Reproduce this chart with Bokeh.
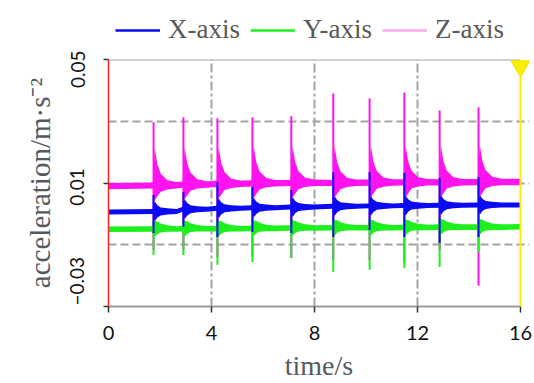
import math
from bokeh.plotting import figure
from bokeh.layouts import column
from bokeh.models import FixedTicker, Legend, LegendItem, Span, LinearAxis
from bokeh.embed import file_html
from bokeh.resources import INLINE

# ---- data ----
t_start, t_end = 0.0, 16.0
y_min, y_max = -0.03, 0.05
spike_t = [1.75, 2.91, 4.23, 5.59, 7.10, 8.73, 10.14, 11.49, 12.86, 14.37]

# centre of each noise band: at t=0, at every spike, at t=16
x_base = [0.0006, 0.0008, 0.0015, 0.0018, 0.0020, 0.0022, 0.0025, 0.0026, 0.0027, 0.0028, 0.0029, 0.0029]
y_base = [-0.0050, -0.0049, -0.0048, -0.0048, -0.0047, -0.0046, -0.0045, -0.0045, -0.0044, -0.0043, -0.0043, -0.0042]
z_base = [0.0090, 0.0092, 0.0095, 0.0097, 0.0099, 0.0100, 0.0100, 0.0101, 0.0102, 0.0102, 0.0103, 0.0103]

# ringing after each knock: time after the spike, band top / bottom relative to the centre
tail_dt = [-0.03, 0.05, 0.15, 0.28, 0.54, 0.90]
x_hi = [0.0008, 0.0032, 0.0020, 0.0013, 0.0010, 0.0008]
x_lo = [-0.0008, -0.0032, -0.0020, -0.0013, -0.0010, -0.0008]
y_hi = [0.0009, 0.0026, 0.0024, 0.0018, 0.0012, 0.0009]
y_lo = [-0.0009, -0.0025, -0.0016, -0.0011, -0.0009, -0.0009]
z_hi = [0.0010, 0.0120, 0.0068, 0.0038, 0.0017, 0.0011]
z_lo = [-0.0010, -0.0048, -0.0035, -0.0020, -0.0013, -0.0010]

# spike extremes
x_peak = [0.0061, 0.0070, 0.0103, 0.0087, 0.0077, 0.0135, 0.0135, 0.0132, 0.0116, 0.0119]
x_trough = [-0.0062, -0.0042, -0.0075, -0.0059, -0.0062, -0.0075, -0.0052, -0.0075, -0.0094, -0.0075]
y_peak = [-0.0022, -0.0022, -0.0020, -0.0020, -0.0018, -0.0015, -0.0015, -0.0014, -0.0014, -0.0013]
y_trough = [-0.0133, -0.0133, -0.0165, -0.0156, -0.0143, -0.0188, -0.0181, -0.0175, -0.0172, -0.0123]
z_peak = [0.0297, 0.0313, 0.0310, 0.0313, 0.0316, 0.0390, 0.0374, 0.0393, 0.0335, 0.0345]
z_trough = [-0.0117, -0.0117, -0.0140, -0.0140, -0.0143, -0.0150, -0.0150, -0.0160, -0.0117, -0.0233]

series_names = ["X-axis", "Y-axis", "Z-axis"]
x_ticks = [0, 4, 8, 12, 16]
y_ticks = [-0.03, 0.01, 0.05]
y_tick_text = ["\u22120.03", "0.01", "0.05"]
y_label_pos = [-0.0218, 0.0087, 0.0471]   # where the source prints the tick texts
x_grid = [4, 8, 12]
y_grid = [-0.01, 0.01, 0.03]
cursor_t = 16
cursor_y = 0.0478

COL_X, COL_Y, COL_Z = "#0a0af5", "#1ef01e", "#ff14f0"
LEG_COLS = ["#0a0af5", "#1ef01e", "#ffaaee"]
GRID = "#a3a3a3"


def envelope(base, hi, lo):
    t, up, dn = [t_start], [base[0] + hi[0]], [base[0] + lo[0]]
    for i, s in enumerate(spike_t):
        for k, dt in enumerate(tail_dt):
            t.append(s + dt)
            up.append(base[i + 1] + hi[k])
            dn.append(base[i + 1] + lo[k])
    t.append(t_end)
    up.append(base[-1] + hi[-1])
    dn.append(base[-1] + lo[-1])
    return t, up, dn


# ---------------- legend strip ----------------
lf = figure(width=534, height=50, x_range=(0, 1), y_range=(0, 1),
            output_backend="svg", toolbar_location=None,
            x_axis_type=None, y_axis_type=None, min_border=0)
lf.outline_line_color = None
lf.background_fill_color = "white"
lf.border_fill_color = "white"
items = []
for name, col in zip(series_names, LEG_COLS):
    r = lf.line(x=[math.nan], y=[math.nan], line_color=col, line_width=2.5)
    items.append(LegendItem(label=name, renderers=[r]))
leg = Legend(items=items, orientation="horizontal", location=(7, 5),
             label_text_font="Liberation Serif", label_text_font_size="27px",
             label_text_color="#595959", glyph_width=45, glyph_height=20,
             label_standoff=8, spacing=10, padding=0, margin=0,
             border_line_color=None, background_fill_alpha=0)
lf.add_layout(leg)

# ---------------- main chart ----------------
p = figure(width=534, height=333, x_range=(0, 16.35), y_range=(y_min, y_max),
           output_backend="svg", toolbar_location=None,
           min_border_left=108, min_border_right=5, min_border_top=9, min_border_bottom=75)
p.background_fill_color = "white"
p.border_fill_color = "white"
p.outline_line_color = None

# grids
p.xgrid.ticker = FixedTicker(ticks=x_grid)
p.ygrid.ticker = FixedTicker(ticks=y_grid)
p.xgrid.grid_line_dash = "9 3 3 3"
p.ygrid.grid_line_dash = "8 4"
for g in (p.xgrid, p.ygrid):
    g.grid_line_color = GRID
    g.grid_line_width = 2

# top frame line
p.line(x=[t_start, t_end], y=[y_max, y_max], line_color=GRID, line_width=2)

# series
for base, hi, lo, pk, tr, col in [(z_base, z_hi, z_lo, z_peak, z_trough, COL_Z),
                                  (y_base, y_hi, y_lo, y_peak, y_trough, COL_Y),
                                  (x_base, x_hi, x_lo, x_peak, x_trough, COL_X)]:
    t, up, dn = envelope(base, hi, lo)
    p.varea(x=t, y1=dn, y2=up, fill_color=col)
    p.segment(x0=spike_t, y0=tr, x1=spike_t, y1=pk, line_color=col, line_width=2)

# cursor at the right edge
p.add_layout(Span(location=cursor_t, dimension="height", line_color="#ffee00", line_width=2))
p.scatter(x=[cursor_t], y=[cursor_y], marker="inverted_triangle", size=19,
          fill_color="#f8f000", line_color="#f0e000")

# x axis
xa = p.xaxis[0]
xa.ticker = FixedTicker(ticks=x_ticks)
xa.bounds = (t_start, t_end)
xa.axis_line_color = "#999999"
xa.axis_line_width = 2
xa.major_tick_line_color = "#333333"
xa.major_tick_line_width = 1.5
xa.major_tick_in = 0
xa.major_tick_out = 6
xa.minor_tick_line_color = None
xa.major_label_text_font = "Lato"
xa.major_label_text_font_size = "20px"
xa.major_label_text_color = "#111111"
xa.major_label_standoff = 13
xa.axis_label = "time/s"
xa.axis_label_text_font = "Liberation Serif"
xa.axis_label_text_font_style = "normal"
xa.axis_label_text_font_size = "28px"
xa.axis_label_text_color = "#555a60"
xa.axis_label_standoff = 7

# y axis: tick marks and the red axis line only
ya = p.yaxis[0]
ya.ticker = FixedTicker(ticks=y_ticks)
ya.axis_line_color = "#ff2020"
ya.axis_line_width = 1.5
ya.major_tick_line_color = "#333333"
ya.major_tick_line_width = 1.5
ya.major_tick_in = 0
ya.major_tick_out = 5
ya.minor_tick_line_color = None
ya.major_label_text_font_size = "1px"
ya.major_label_text_color = None
ya.major_label_standoff = 0

# y axis texts, printed where the source prints them
yl = LinearAxis(ticker=FixedTicker(ticks=y_label_pos),
                major_label_overrides=dict(zip(y_label_pos, y_tick_text)),
                axis_line_color=None, major_tick_line_color=None, minor_tick_line_color=None,
                major_tick_in=0, major_tick_out=0,
                major_label_orientation="parallel",
                major_label_text_font="Lato", major_label_text_font_size="19px",
                major_label_text_color="#111111", major_label_standoff=19,
                axis_label="acceleration/m\u00b7s\u207b\u00b2",
                axis_label_text_font="Liberation Serif", axis_label_text_font_style="normal",
                axis_label_text_font_size="29px", axis_label_text_color="#555a60",
                axis_label_standoff=12)
p.add_layout(yl, "left")

open("out.html", "w").write(file_html(column(lf, p), INLINE))
